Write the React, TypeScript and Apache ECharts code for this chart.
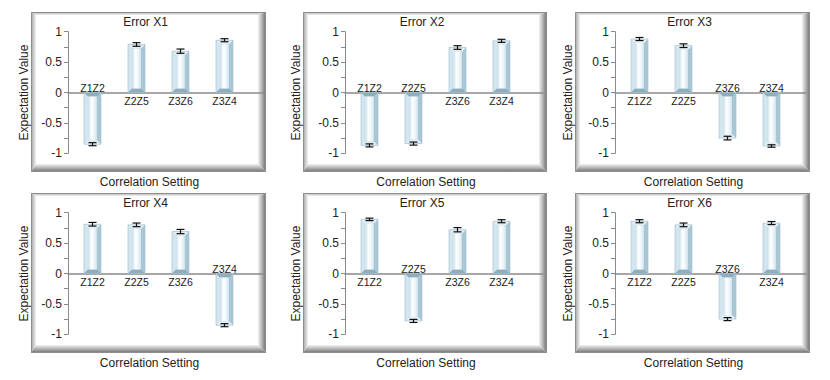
import React, { useEffect, useRef } from 'react';
import * as echarts from 'echarts';

const categories = ['Z1Z2', 'Z2Z5', 'Z3Z6', 'Z3Z4'];
const panelTitles = ['Error X1', 'Error X2', 'Error X3', 'Error X4', 'Error X5', 'Error X6'];
const valuesX1 = [-0.85, 0.79, 0.68, 0.86];
const valuesX2 = [-0.87, -0.84, 0.74, 0.85];
const valuesX3 = [0.88, 0.77, -0.75, -0.88];
const valuesX4 = [0.81, 0.8, 0.69, -0.85];
const valuesX5 = [0.89, -0.78, 0.72, 0.86];
const valuesX6 = [0.86, 0.8, -0.75, 0.83];
const errorsX1 = [0.025, 0.03, 0.035, 0.025];
const errorsX2 = [0.025, 0.025, 0.03, 0.025];
const errorsX3 = [0.025, 0.03, 0.03, 0.02];
const errorsX4 = [0.03, 0.03, 0.035, 0.025];
const errorsX5 = [0.02, 0.025, 0.035, 0.025];
const errorsX6 = [0.025, 0.03, 0.025, 0.025];
const yTickLabels = [-1, -0.5, 0, 0.5, 1];
const xAxisTitle = 'Correlation Setting';
const yAxisTitle = 'Expectation Value';

const panelValues = [valuesX1, valuesX2, valuesX3, valuesX4, valuesX5, valuesX6];
const panelErrors = [errorsX1, errorsX2, errorsX3, errorsX4, errorsX5, errorsX6];

const FONT = '"Liberation Sans", Arial, sans-serif';

// layout
const colFrames = [[31, 266], [303, 547], [575, 810]];
const rowFrames = [[12, 172], [193, 353]];
const gridLefts = [68, 345, 615];
const gridRights = [263, 543, 806];
const gridTops = [31.7, 212.7];
const gridHeight = 121.6;
const catOffset = 24.5;
const catBand = 44;

function makeFrame(x0: number, y0: number, x1: number, y1: number) {
  const L = 5, T = 3, R = 8, B = 8;
  const lg = (a: number, b: number, c: number, d: number, stops: [number, string][]) =>
    new echarts.graphic.LinearGradient(a, b, c, d, stops.map(([offset, color]) => ({ offset, color })));
  return {
    type: 'group',
    silent: true,
    z: -5,
    children: [
      {
        type: 'polygon',
        shape: { points: [[x0, y0], [x1, y0], [x1 - R, y0 + T], [x0 + L, y0 + T]] },
        style: { fill: lg(0, 0, 0, 1, [[0, '#a8a8a8'], [1, '#f2f2f2']]) },
      },
      {
        type: 'polygon',
        shape: { points: [[x0, y0], [x0 + L, y0 + T], [x0 + L, y1 - B], [x0, y1]] },
        style: { fill: lg(0, 0, 1, 0, [[0, '#a0a0a0'], [1, '#f2f2f2']]) },
      },
      {
        type: 'polygon',
        shape: { points: [[x1, y0], [x1, y1], [x1 - R, y1 - B], [x1 - R, y0 + T]] },
        style: { fill: lg(0, 0, 1, 0, [[0, '#f2f2f2'], [0.45, '#b8b8b8'], [1, '#6c6c6c']]) },
      },
      {
        type: 'polygon',
        shape: { points: [[x0, y1], [x1, y1], [x1 - R, y1 - B], [x0 + L, y1 - B]] },
        style: { fill: lg(0, 0, 0, 1, [[0, '#f2f2f2'], [0.45, '#b8b8b8'], [1, '#6c6c6c']]) },
      },
      {
        type: 'rect',
        shape: { x: x0 + 0.5, y: y0 + 0.5, width: x1 - x0 - 1, height: y1 - y0 - 1 },
        style: { fill: 'none', stroke: '#8e8e8e', lineWidth: 1 },
      },
    ],
  };
}

export default function App() {
  const ref = useRef<HTMLDivElement>(null);
  useEffect(() => {
    if (!ref.current) return;
    const chart = echarts.init(ref.current, null, { renderer: 'svg' });
    const grids: any[] = [];
    const xAxes: any[] = [];
    const yAxes: any[] = [];
    const series: any[] = [];
    const graphics: any[] = [];

    const faceGrad = new echarts.graphic.LinearGradient(0, 0, 1, 0, [
      { offset: 0, color: '#c9dfea' },
      { offset: 0.4, color: '#ffffff' },
      { offset: 0.75, color: '#e9f3f7' },
      { offset: 1, color: '#cde1eb' },
    ]);

    for (let p = 0; p < 6; p++) {
      const col = p % 3;
      const row = Math.floor(p / 3);
      const [fx0, fx1] = colFrames[col];
      const [fy0, fy1] = rowFrames[row];
      const gl = gridLefts[col];
      const gw = gridRights[col] - gl;
      grids.push({ left: gl, top: gridTops[row], width: gw, height: gridHeight });
      xAxes.push({
        type: 'value',
        gridIndex: p,
        min: -catOffset / catBand,
        max: (gw - catOffset) / catBand,
        axisLine: { show: true, onZero: true, lineStyle: { color: '#8a8a8a', width: 1.5 } },
        axisTick: { show: false },
        axisLabel: { show: false },
        splitLine: { show: false },
      });
      yAxes.push({
        type: 'value',
        gridIndex: p,
        min: yTickLabels[0],
        max: yTickLabels[yTickLabels.length - 1],
        interval: yTickLabels[1] - yTickLabels[0],
        axisLine: { show: true, onZero: false, lineStyle: { color: '#8a8a8a', width: 1 } },
        axisTick: { show: true, inside: false, length: 4, lineStyle: { color: '#8a8a8a' } },
        minorTick: { show: true, splitNumber: 2, length: 4, lineStyle: { color: '#8a8a8a' } },
        splitLine: { show: false },
        axisLabel: { fontSize: 12, color: '#222', fontFamily: FONT, margin: 6 },
      });
      const vals = panelValues[p];
      const errs = panelErrors[p];
      series.push({
        type: 'custom',
        xAxisIndex: p,
        yAxisIndex: p,
        data: vals.map((v, i) => [i, v, errs[i]]),
        encode: { x: 0, y: 1 },
        renderItem: (params: any, api: any) => {
          const idx = api.value(0);
          const v = api.value(1);
          const e = api.value(2);
          const pz = api.coord([idx, 0]);
          const pv = api.coord([idx, v]);
          const xc = pz[0];
          const w = 17;
          const b = 4;
          const x0 = xc - w / 2;
          const x1 = xc + w / 2;
          const yz = pz[1];
          const yv = pv[1];
          const s = yz > yv ? 1 : -1;
          const yvi = yv + s * b;
          const yzi = yz - s * b;
          const lo = api.coord([idx, v - e])[1];
          const hi = api.coord([idx, v + e])[1];
          const cap = 4;
          const es = { stroke: '#111', lineWidth: 1.2 };
          return {
            type: 'group',
            children: [
              { type: 'rect', shape: { x: x0, y: Math.min(yv, yz), width: w, height: Math.abs(yz - yv) }, style: { fill: '#b3cfdd' } },
              { type: 'polygon', shape: { points: [[x0, yv], [x0 + b, yvi], [x0 + b, yzi], [x0, yz]] }, style: { fill: '#d3e6ef' } },
              { type: 'polygon', shape: { points: [[x1, yv], [x1 - b, yvi], [x1 - b, yzi], [x1, yz]] }, style: { fill: '#a9c6d5' } },
              { type: 'polygon', shape: { points: [[x0, yv], [x1, yv], [x1 - b, yvi], [x0 + b, yvi]] }, style: { fill: '#e4eff5' } },
              { type: 'polygon', shape: { points: [[x0, yz], [x1, yz], [x1 - b, yzi], [x0 + b, yzi]] }, style: { fill: '#8eadbd' } },
              { type: 'rect', shape: { x: x0 + b, y: Math.min(yvi, yzi), width: w - 2 * b, height: Math.abs(yzi - yvi) }, style: { fill: faceGrad } },
              { type: 'rect', shape: { x: x0, y: Math.min(yv, yz), width: w, height: Math.abs(yz - yv) }, style: { fill: 'none', stroke: '#9dbccc', lineWidth: 0.6 } },
              { type: 'line', shape: { x1: xc, y1: lo, x2: xc, y2: hi }, style: es },
              { type: 'line', shape: { x1: xc - cap, y1: lo, x2: xc + cap, y2: lo }, style: es },
              { type: 'line', shape: { x1: xc - cap, y1: hi, x2: xc + cap, y2: hi }, style: es },
              {
                type: 'text',
                x: xc,
                y: v >= 0 ? yz + 3 : yz + 1,
                style: {
                  text: categories[params.dataIndex],
                  fontSize: 10.5,
                  fontFamily: FONT,
                  fill: '#222',
                  align: 'center',
                  verticalAlign: v >= 0 ? 'top' : 'bottom',
                },
              },
            ],
          };
        },
      });

      graphics.push(makeFrame(fx0, fy0, fx1, fy1));
      const fcx = (fx0 + fx1) / 2;
      graphics.push({
        type: 'text',
        x: fcx - 3,
        y: fy0 + 9.5,
        style: { text: panelTitles[p], fontSize: 12, fontFamily: FONT, fill: '#222', align: 'center', verticalAlign: 'middle' },
      });
      graphics.push({
        type: 'text',
        x: fcx + 1,
        y: fy1 + 9.5,
        style: { text: xAxisTitle, fontSize: 12, fontFamily: FONT, fill: '#222', align: 'center', verticalAlign: 'middle' },
      });
      graphics.push({
        type: 'text',
        x: fx0 - 7,
        y: gridTops[row] + gridHeight / 2,
        rotation: Math.PI / 2,
        style: { text: yAxisTitle, fontSize: 12, fontFamily: FONT, fill: '#222', align: 'center', verticalAlign: 'middle' },
      });
    }

    chart.setOption({
      animation: false,
      backgroundColor: '#ffffff',
      grid: grids,
      xAxis: xAxes,
      yAxis: yAxes,
      series,
      graphic: graphics,
    });
    return () => chart.dispose();
  }, []);
  return <div ref={ref} style={{ position: 'fixed', left: 0, top: 0, width: 830, height: 380 }} />;
}
